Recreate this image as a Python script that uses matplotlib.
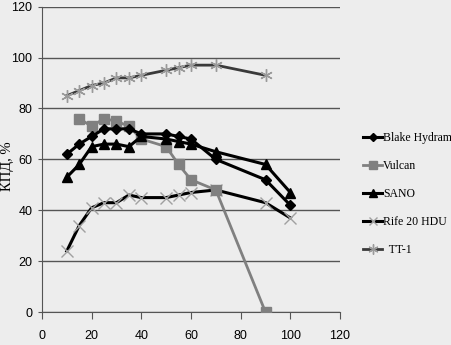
import matplotlib
matplotlib.use("Agg")
import matplotlib.pyplot as plt

x_blake = [10, 15, 20, 25, 30, 35, 40, 50, 55, 60, 70, 90, 100]
y_blake = [62, 66, 69, 72, 72, 72, 70, 70, 69, 68, 60, 52, 42]

x_vulcan = [15, 20, 25, 30, 35, 40, 50, 55, 60, 70, 90]
y_vulcan = [76, 73, 76, 75, 73, 68, 65, 58, 52, 48, 0]

x_sano = [10, 15, 20, 25, 30, 35, 40, 50, 55, 60, 70, 90, 100]
y_sano = [53, 58, 65, 66, 66, 65, 69, 68, 67, 66, 63, 58, 47]

x_rife = [10, 15, 20, 25, 30, 35, 40, 50, 55, 60, 70, 90, 100]
y_rife = [24, 34, 41, 43, 43, 46, 45, 45, 46, 47, 48, 43, 37]

x_tt = [10, 15, 20, 25, 30, 35, 40, 50, 55, 60, 70, 90]
y_tt = [85, 87, 89, 90, 92, 92, 93, 95, 96, 97, 97, 93]

xticks = [0, 20, 40, 60, 80, 100, 120]
yticks = [0, 20, 40, 60, 80, 100, 120]

bg = "#ededed"

fig = plt.figure(figsize=(4.51, 3.45), dpi=100, facecolor=bg)
ax = fig.add_axes([0.093, 0.095, 0.661, 0.886], facecolor=bg)

ax.plot(x_tt, y_tt, color="#3a3a3a", lw=2, marker=(6, 2, 0), ms=9,
        mec="#9a9a9a", mew=1, label="  TT-1", zorder=3)
ax.plot(x_rife, y_rife, color="black", lw=2.2, marker="x", ms=8,
        mec="#a0a0a0", mew=1, label="Rife 20 HDU", zorder=3)
ax.plot(x_vulcan, y_vulcan, color="#808080", lw=2, marker="s", ms=7,
        mfc="#808080", mec="#808080", label="Vulcan", zorder=4)
ax.plot(x_sano, y_sano, color="black", lw=2.2, marker="^", ms=7,
        label="SANO", zorder=5)
ax.plot(x_blake, y_blake, color="black", lw=2.2, marker="D", ms=5.5,
        label="Blake Hydram", zorder=5)

ax.set_xlim(0, 120)
ax.set_ylim(0, 120)
ax.set_xticks(xticks)
ax.set_yticks(yticks)
ax.yaxis.grid(True, color="#555555", lw=1)
ax.set_axisbelow(True)
for s in ["top", "right"]:
    ax.spines[s].set_visible(False)
ax.spines["left"].set_color("#555555")
ax.spines["bottom"].set_color("#555555")
ax.tick_params(axis="x", length=5, pad=8, color="#555555", labelsize=9)
ax.tick_params(axis="y", length=3, pad=4, color="#555555", labelsize=9)
for t in ax.get_xticklabels() + ax.get_yticklabels():
    t.set_family("Liberation Sans")

fig.text(8 / 451, 1 - 166 / 345, "КПД, %", rotation=90, ha="center", va="center",
         family="Liberation Serif", fontsize=10.5)

handles, labels = ax.get_legend_handles_labels()
order = [4, 2, 3, 1, 0]
leg = fig.legend([handles[i] for i in order], [labels[i] for i in order],
                 loc="center left", bbox_to_anchor=(0.795, 0.438), frameon=False,
                 prop={"family": "Liberation Serif", "size": 8.5},
                 handlelength=1.6, handletextpad=0.1, labelspacing=1.35,
                 borderaxespad=0, markerscale=0.8)

fig.savefig("out.png", dpi=100, facecolor=bg)
